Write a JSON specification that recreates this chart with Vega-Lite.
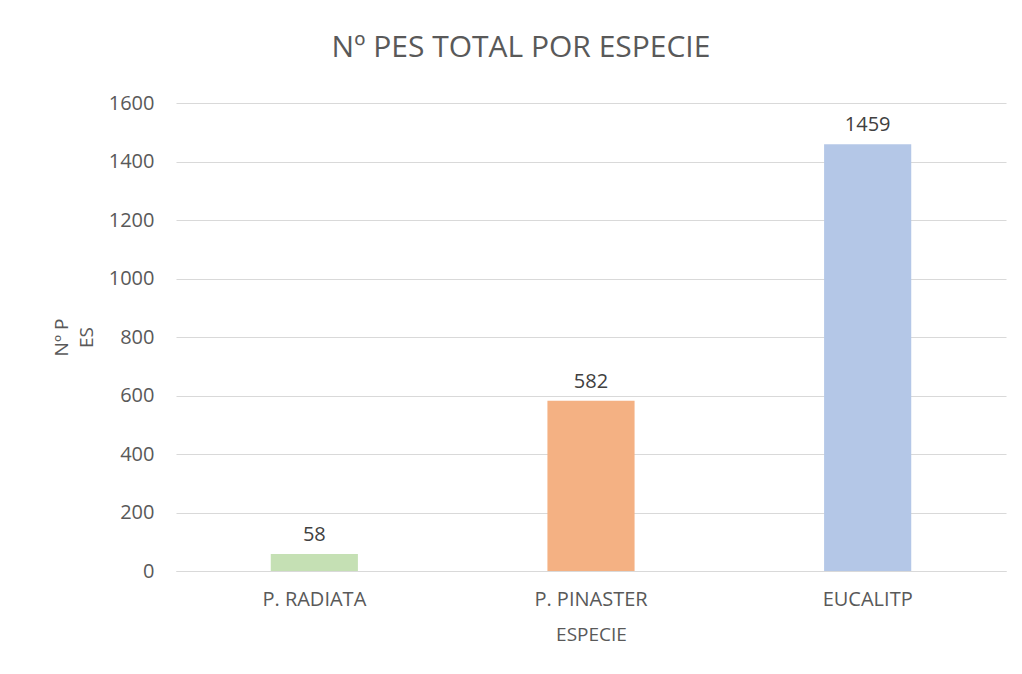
{
  "$schema": "https://vega.github.io/schema/vega-lite/v6.json",
  "autosize": "none",
  "width": 830,
  "height": 468,
  "padding": {"left": 176, "top": 103, "right": 16, "bottom": 103},
  "background": "white",
  "title": {"text": "Nº PES TOTAL POR ESPECIE", "fontSize": 30, "font": "Open Sans", "fontWeight": "normal", "color": "#595959", "anchor": "middle", "offset": 30, "frame": "group", "dx": -70},
  "data": {"values": [
    {"especie": "P. RADIATA", "pes": 58},
    {"especie": "P. PINASTER", "pes": 582},
    {"especie": "EUCALITP", "pes": 1459}
  ]},
  "config": {
    "view": {"stroke": null},
    "font": "Open Sans",
    "axis": {"labelFont": "Open Sans", "titleFont": "Open Sans", "labelColor": "#595959", "titleColor": "#595959", "labelFontSize": 20, "titleFontSize": 19, "titleFontWeight": "normal"}
  },
  "encoding": {
    "x": {"field": "especie", "type": "nominal", "sort": null,
      "scale": {"paddingInner": 0.685, "paddingOuter": 0.3425},
      "axis": {"title": "ESPECIE", "labelAngle": 0, "ticks": false, "domain": true, "domainColor": "#d9d9d9", "labelPadding": 18, "titlePadding": 16}},
    "y": {"field": "pes", "type": "quantitative",
      "scale": {"domain": [0, 1600]},
      "axis": {"title": ["Nº P", "ES"], "format": "d", "labelFontSize": 20, "values": [0,200,400,600,800,1000,1200,1400,1600], "ticks": false, "domain": false, "gridColor": "#d9d9d9", "labelPadding": 22, "titlePadding": 12, "titleLineHeight": 25}}
  },
  "layer": [
    {"mark": {"type": "bar"},
     "encoding": {"color": {"field": "especie", "type": "nominal", "sort": null, "legend": null,
       "scale": {"domain": ["P. RADIATA", "P. PINASTER", "EUCALITP"], "range": ["#c5e0b4", "#f4b183", "#b4c7e7"]}}}},
    {"mark": {"type": "text", "dy": -19, "fontSize": 20, "color": "#404040", "font": "Open Sans"},
     "encoding": {"text": {"field": "pes", "type": "quantitative"}}}
  ]
}
